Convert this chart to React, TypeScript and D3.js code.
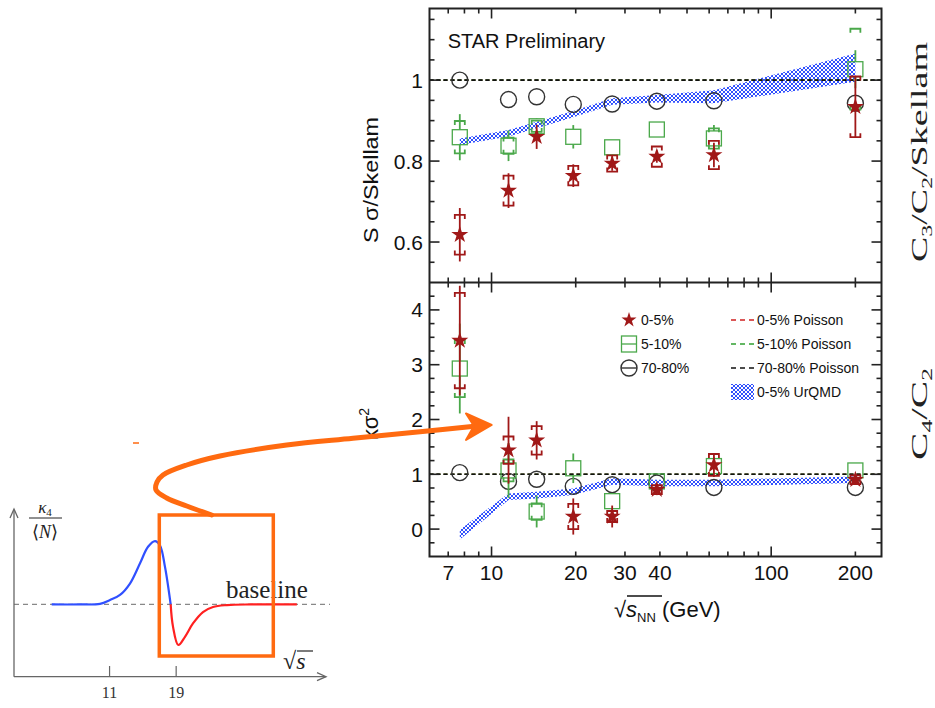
import React from "react";
import * as d3 from "d3";

// beam energies (GeV)
const energies = [7.7, 11.5, 14.5, 19.6, 27, 39, 62.4, 200];

// S sigma / Skellam (top panel)
const ss05 = [0.618, 0.727, 0.86, 0.764, 0.794, 0.811, 0.815, 0.934];
const ss05Stat = [0.066, 0.043, 0.03, 0.028, 0.018, 0.015, 0.03, 0.076];
const ss05Sys = [0.049, 0.037, 0, 0.024, 0.02, 0.025, 0.035, 0.075];
const ss510 = [0.859, 0.838, 0.886, 0.86, 0.834, 0.878, 0.856, 1.027];
const ss510Stat = [0.057, 0.038, 0.02, 0.029, 0.01, 0, 0.033, 0.047];
const ss510Sys = [0.04, 0.02, 0.014, 0, 0, 0, 0.025, 0.1];
const ss7080 = [1.0, 0.952, 0.959, 0.94, 0.941, 0.948, 0.949, 0.943];
const ssUrqmd = [0.848, 0.869, 0.889, 0.916, 0.947, 0.954, 0.959, 1.031];
const ssUrqmdErr = [0.008, 0.008, 0.008, 0.008, 0.008, 0.009, 0.016, 0.035];

// kappa sigma^2 (bottom panel)
const ks05 = [3.44, 1.44, 1.62, 0.23, 0.23, 0.72, 1.17, 0.9];
const ks05Stat = [1.0, 0.61, 0.35, 0.33, 0.2, 0.1, 0.22, 0.08];
const ks05Sys = [0.87, 0.25, 0.26, 0.23, 0.1, 0.08, 0.2, 0.08];
const ks510 = [2.93, 1.07, 0.32, 1.11, 0.51, 0.87, 1.15, 1.07];
const ks510Stat = [0.82, 0.5, 0.29, 0.27, 0.1, 0, 0.15, 0];
const ks510Sys = [0.52, 0.2, 0.15, 0, 0, 0, 0, 0];
const ks7080 = [1.03, 0.87, 0.91, 0.78, 0.81, 0.84, 0.76, 0.76];
const ksUrqmd = [-0.1, 0.59, 0.62, 0.68, 0.87, 0.84, 0.84, 0.9];
const ksUrqmdErr = [0.09, 0.06, 0.06, 0.06, 0.06, 0.06, 0.06, 0.06];

const xTickLabels = [7, 10, 20, 30, 40, 100, 200];
const xMinorTicks = [7, 8, 9, 10, 20, 30, 40, 50, 60, 70, 80, 90, 100, 200];
const topTickLabels = [0.6, 0.8, 1];
const botTickLabels = [0, 1, 2, 3, 4];

const legendMarkers = ["0-5%", "5-10%", "70-80%"];
const legendLines = ["0-5% Poisson", "5-10% Poisson", "70-80% Poisson", "0-5% UrQMD"];

// schematic inset (kappa4/<N> vs sqrt s)
const insetBlueX = [4.05, 7.45, 9.85, 11.05, 12.25, 13.45, 14.66, 15.62, 16.46, 17.06, 17.66, 18.34];
const insetBlueY = [0, 0, 0.01, 0.07, 0.15, 0.33, 0.65, 0.91, 1.0, 0.93, 0.59, 0];
const insetRedX = [18.34, 18.62, 19.26, 20.06, 21.02, 22.22, 23.43, 25.1, 28, 33.5];
const insetRedY = [0, -0.35, -0.64, -0.51, -0.3, -0.12, -0.04, -0.01, 0, 0];
const insetTicks = [11, 19];

// annotation arrow
const arrowPts: [number, number][] = [
  [211.7, 515], [186.7, 506], [166.7, 498], [156, 490], [157, 482], [163, 475],
  [186.7, 465], [220, 456], [286.7, 445], [353, 438.3], [420, 431.7], [472, 426.5],
];

const sans = "'Liberation Sans', Arial, Helvetica, sans-serif";
const serif = "'Liberation Serif', 'Times New Roman', serif";
const RED = "#a01818";
const GREEN = "#4aa84a";
const BLUE = "#3050ff";
const ORANGE = "#ff6a10";

const plotL = 429.5, plotR = 881.5, topT = 8.5, mid = 282.5, botB = 556.5;

const x = d3.scaleLog().domain([6, 248]).range([plotL, plotR]);
const yTop = d3.scaleLinear().domain([0.5, 1.177]).range([mid, topT]);
const yBot = d3.scaleLinear().domain([-0.5, 4.5]).range([botB, mid]);

const starPath = d3.symbol(d3.symbolStar, 90)() as string;
const starLegend = d3.symbol(d3.symbolStar, 70)() as string;

function Bracket({ cx, cy, dir, color }: { cx: number; cy: number; dir: number; color: string }) {
  return (
    <path
      d={`M${cx - 5},${cy + 4 * dir}V${cy}H${cx + 5}V${cy + 4 * dir}`}
      fill="none" stroke={color} strokeWidth={1.8}
    />
  );
}

function Series({ vals, stat, sys, y, kind }: any) {
  const color = kind === "star" ? RED : kind === "square" ? GREEN : "#333";
  const gap = kind === "square" ? 7.5 : 0;
  return (
    <g>
      {vals.map((v: number, i: number) => {
        const cx = x(energies[i]);
        const cy = y(v);
        const hi = stat ? y(v + stat[i]) : cy;
        const lo = stat ? y(v - stat[i]) : cy;
        return (
          <g key={i}>
            {stat && stat[i] > 0 && (
              <>
                {hi < cy - gap && <line x1={cx} x2={cx} y1={hi} y2={cy - gap} stroke={color} strokeWidth={1.8} />}
                {lo > cy + gap && <line x1={cx} x2={cx} y1={cy + gap} y2={lo} stroke={color} strokeWidth={1.8} />}
              </>
            )}
            {sys && sys[i] > 0 && (
              <>
                <Bracket cx={cx} cy={y(v + sys[i])} dir={1} color={color} />
                <Bracket cx={cx} cy={y(v - sys[i])} dir={-1} color={color} />
              </>
            )}
            {kind === "star" && <path d={starPath} transform={`translate(${cx},${cy})`} fill={RED} />}
            {kind === "square" && (
              <rect x={cx - 7.5} y={cy - 7.5} width={15} height={15} fill="none" stroke={GREEN} strokeWidth={1.3} />
            )}
            {kind === "circle" && <circle cx={cx} cy={cy} r={8} fill="none" stroke="#333" strokeWidth={1.4} />}
          </g>
        );
      })}
    </g>
  );
}

function Band({ vals, err, y }: any) {
  const area = d3
    .area<number>()
    .x((_, i) => x(energies[i]))
    .y0((v, i) => y(v - err[i]))
    .y1((v, i) => y(v + err[i]));
  return <path d={area(vals) as string} fill="url(#hatch)" />;
}

function YTicks({ y, minor, major }: any) {
  return (
    <g stroke="#222" strokeWidth={1.6}>
      {minor.map((t: number) => {
        const isMajor = major.some((m: number) => Math.abs(m - t) < 1e-6);
        const len = isMajor ? 10 : 5;
        return (
          <g key={t}>
            <line x1={plotL} x2={plotL + len} y1={y(t)} y2={y(t)} />
            <line x1={plotR} x2={plotR - len} y1={y(t)} y2={y(t)} />
          </g>
        );
      })}
    </g>
  );
}

function XTicks({ edge, dir }: { edge: number; dir: number }) {
  return (
    <g stroke="#222" strokeWidth={1.6}>
      {xMinorTicks.map((t) => {
        const len = t === 10 || t === 100 ? 10 : 5;
        return <line key={t} x1={x(t)} x2={x(t)} y1={edge} y2={edge + dir * len} />;
      })}
    </g>
  );
}

function Inset() {
  const ix = d3.scaleLinear().domain([0, 37]).range([18, 326]);
  const iy = d3.scaleLinear().domain([-1.14, 1.49]).range([676.7, 510]);
  const mk = (xs: number[], ys: number[]) =>
    d3.line<number>().curve(d3.curveCatmullRom).x((d) => ix(d)).y((_, i) => iy(ys[i]))(xs) as string;
  const ax = "#666";
  return (
    <g>
      <line x1={14} x2={330} y1={iy(0)} y2={iy(0)} stroke="#888" strokeWidth={1.2} strokeDasharray="5,4" />
      <line x1={14} x2={14} y1={676.7} y2={510} stroke={ax} strokeWidth={1.3} />
      <path d="M10,518 L14,509 L18,518" fill="none" stroke={ax} strokeWidth={1.3} />
      <line x1={14} x2={326} y1={676.7} y2={676.7} stroke={ax} strokeWidth={1.3} />
      <path d="M317,672.7 L326,676.7 L317,680.7" fill="none" stroke={ax} strokeWidth={1.3} />
      {insetTicks.map((t) => (
        <g key={t}>
          <line x1={ix(t)} x2={ix(t)} y1={666} y2={676.7} stroke={ax} strokeWidth={1.2} />
          <text x={ix(t)} y={698} textAnchor="middle" fontFamily={serif} fontSize={16} fill="#333">{t}</text>
        </g>
      ))}
      <path d={mk(insetBlueX, insetBlueY)} fill="none" stroke={BLUE} strokeWidth={2.2} />
      <path d={mk(insetRedX, insetRedY)} fill="none" stroke="#ff2020" strokeWidth={2.2} />
      <text x={226} y={598} fontFamily={serif} fontSize={25} fill="#222">baseline</text>
      <text x={283} y={669} fontFamily={serif} fontSize={24} fill="#222">
        √<tspan fontStyle="italic">s</tspan>
      </text>
      <line x1={297} x2={313} y1={651} y2={651} stroke="#222" strokeWidth={1.2} />
      <text x={45} y={513} textAnchor="middle" fontFamily={serif} fontSize={17} fill="#222">
        <tspan fontStyle="italic">κ</tspan>
        <tspan fontSize={11} dy={3}>4</tspan>
      </text>
      <line x1={29} x2={62} y1={518} y2={518} stroke="#222" strokeWidth={1} />
      <text x={45} y={538} textAnchor="middle" fontFamily={serif} fontSize={18} fill="#222">
        ⟨<tspan fontStyle="italic">N</tspan>⟩
      </text>
      <rect x={159.3} y={515} width={114} height={141} fill="none" stroke={ORANGE} strokeWidth={3.5} />
    </g>
  );
}

export default function App() {
  const arrow = d3.line().curve(d3.curveCatmullRom)(arrowPts) as string;
  const topMinor = d3.range(0.5, 1.1751, 0.05).map((d) => +d.toFixed(2));
  const botMinor = d3.range(-0.5, 4.501, 0.25).map((d) => +d.toFixed(2));

  return (
    <svg width={935} height={708} style={{ position: "absolute", left: 0, top: 0, background: "#fff" }}>
      <defs>
        <pattern id="hatch" width={4} height={4} patternUnits="userSpaceOnUse">
          <path d="M0,0L4,4M4,0L0,4" stroke={BLUE} strokeWidth={1} />
        </pattern>
      </defs>
      <rect width={935} height={708} fill="#fff" />

      {/* top panel */}
      <Band vals={ssUrqmd} err={ssUrqmdErr} y={yTop} />
      {[RED, GREEN, "#111"].map((c) => (
        <line key={c} x1={plotL} x2={plotR} y1={yTop(1)} y2={yTop(1)} stroke={c} strokeWidth={1.6} strokeDasharray="4,3" />
      ))}
      <Series vals={ss7080} y={yTop} kind="circle" />
      <Series vals={ss510} stat={ss510Stat} sys={ss510Sys} y={yTop} kind="square" />
      <Series vals={ss05} stat={ss05Stat} sys={ss05Sys} y={yTop} kind="star" />

      {/* bottom panel */}
      <Band vals={ksUrqmd} err={ksUrqmdErr} y={yBot} />
      {[RED, GREEN, "#111"].map((c) => (
        <line key={c} x1={plotL} x2={plotR} y1={yBot(1)} y2={yBot(1)} stroke={c} strokeWidth={1.6} strokeDasharray="4,3" />
      ))}
      <Series vals={ks7080} y={yBot} kind="circle" />
      <Series vals={ks510} stat={ks510Stat} sys={ks510Sys} y={yBot} kind="square" />
      <Series vals={ks05} stat={ks05Stat} sys={ks05Sys} y={yBot} kind="star" />

      {/* frame and ticks */}
      <rect x={plotL} y={topT} width={plotR - plotL} height={botB - topT} fill="none" stroke="#222" strokeWidth={2} />
      <line x1={plotL} x2={plotR} y1={mid} y2={mid} stroke="#222" strokeWidth={2} />
      <YTicks y={yTop} minor={topMinor.filter((t) => t > 0.5)} major={topTickLabels} />
      <YTicks y={yBot} minor={botMinor.filter((t) => t > -0.5 && t < 4.5)} major={botTickLabels} />
      <XTicks edge={topT} dir={1} />
      <XTicks edge={mid} dir={-1} />
      <XTicks edge={mid} dir={1} />
      <XTicks edge={botB} dir={-1} />

      <g fontFamily={sans} fontSize={21} fill="#111">
        {topTickLabels.map((t) => (
          <text key={t} x={423} y={yTop(t)} dy="0.36em" textAnchor="end">{t}</text>
        ))}
        {botTickLabels.map((t) => (
          <text key={t} x={423} y={yBot(t)} dy="0.36em" textAnchor="end">{t}</text>
        ))}
        {xTickLabels.map((t) => (
          <text key={t} x={x(t)} y={580} textAnchor="middle">{t}</text>
        ))}
      </g>

      <text x={447.7} y={47.7} fontFamily={sans} fontSize={20} fill="#111">STAR Preliminary</text>

      <text transform="translate(378,180) rotate(-90)" textAnchor="middle" fontFamily={sans} fontSize={21}
        fill="#111" textLength={126} lengthAdjust="spacingAndGlyphs">S σ/Skellam</text>
      <text transform="translate(378,424) rotate(-90)" textAnchor="middle" fontFamily={sans} fontSize={22} fill="#111">
        κσ<tspan fontSize={14} dy={-9}>2</tspan>
      </text>

      <text x={614} y={617} fontFamily={sans} fontSize={22} fill="#111">
        √<tspan fontStyle="italic">s</tspan>
        <tspan fontSize={13} dy={5}>NN</tspan>
        <tspan dy={-5}> (GeV)</tspan>
      </text>
      <line x1={627} x2={662} y1={596} y2={596} stroke="#111" strokeWidth={1.3} />

      {/* legend */}
      <g fontFamily={sans} fontSize={14} fill="#111">
        {legendMarkers.map((t, i) => {
          const cy = 320 + i * 24;
          return (
            <g key={t}>
              {i === 0 && <path d={starLegend} transform={`translate(629,${cy})`} fill={RED} />}
              {i === 1 && (
                <g stroke={GREEN} strokeWidth={1.3} fill="none">
                  <rect x={621.5} y={cy - 8} width={15} height={16} />
                  <line x1={621.5} x2={636.5} y1={cy} y2={cy} />
                </g>
              )}
              {i === 2 && (
                <g stroke="#333" strokeWidth={1.4} fill="none">
                  <circle cx={629} cy={cy} r={8} />
                  <line x1={621} x2={637} y1={cy} y2={cy} />
                </g>
              )}
              <text x={641} y={cy} dy="0.36em">{t}</text>
            </g>
          );
        })}
        {legendLines.map((t, i) => {
          const cy = 320 + i * 24;
          const c = ["#d02020", "#30a030", "#111"][i];
          return (
            <g key={t}>
              {i < 3 ? (
                <line x1={731} x2={754} y1={cy} y2={cy} stroke={c} strokeWidth={1.4} strokeDasharray="5,4" />
              ) : (
                <rect x={731} y={cy - 8} width={23} height={16} fill="url(#hatch)" />
              )}
              <text x={757} y={cy} dy="0.36em">{t}</text>
            </g>
          );
        })}
      </g>

      {/* right-hand labels */}
      <text transform="translate(927,152) rotate(-90)" textAnchor="middle" fontFamily={serif} fontSize={24}
        fill="#222" textLength={220} lengthAdjust="spacingAndGlyphs">
        C<tspan fontSize={15} dy={5}>3</tspan><tspan dy={-5}>/C</tspan><tspan fontSize={15} dy={5}>2</tspan>
        <tspan dy={-5}>/Skellam</tspan>
      </text>
      <text transform="translate(927,414) rotate(-90)" textAnchor="middle" fontFamily={serif} fontSize={24}
        fill="#222" textLength={92} lengthAdjust="spacingAndGlyphs">
        C<tspan fontSize={15} dy={5}>4</tspan><tspan dy={-5}>/C</tspan><tspan fontSize={15} dy={5}>2</tspan>
      </text>

      <Inset />

      {/* orange arrow */}
      <path d={arrow} fill="none" stroke={ORANGE} strokeWidth={5} strokeLinecap="round" />
      <path d="M491.7,425 L466,413.5 L474,426 L466,440 Z" fill={ORANGE} stroke={ORANGE} strokeWidth={2} strokeLinejoin="round" />
      <line x1={133} x2={139} y1={443} y2={443} stroke={ORANGE} strokeWidth={1.5} />
    </svg>
  );
}
